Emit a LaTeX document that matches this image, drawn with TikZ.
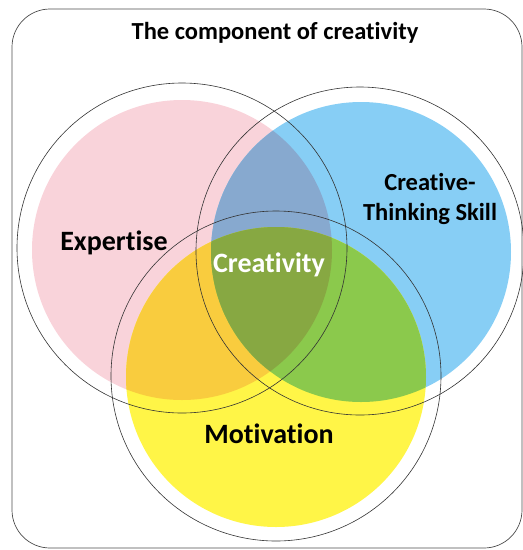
\documentclass[tikz,border=0pt]{standalone}
\usepackage{fontspec}
\setmainfont[Ligatures=CommonOff]{Carlito}
\usepackage{tikz}

\definecolor{expfill}{HTML}{F9D3DA}
\definecolor{skillfill}{HTML}{87CEF5}
\definecolor{motfill}{HTML}{FFF547}
\definecolor{expskill}{HTML}{87A9CF}
\definecolor{expmot}{HTML}{F9CC3E}
\definecolor{skillmot}{HTML}{8BC94C}
\definecolor{creafill}{HTML}{87A842}

\begin{document}
\begin{tikzpicture}[x=1pt,y=-1pt,
	ring/.style={draw=black!80,line width=0.6pt},
	lbl/.style={font=\fontsize{28}{30}\selectfont\bfseries,align=center,anchor=base,inner sep=0pt}]
		\useasboundingbox (0,0) rectangle (523,550);

		\coordinate (E) at (182,250);
		\coordinate (S) at (361,252);
		\coordinate (M) at (276,377);

		\draw[draw=black!70,line width=0.7pt,rounded corners=38pt] (12,9) rectangle (522,548);
	    \node[lbl,font=\fontsize{24.5}{30}\selectfont\bfseries] (title) at (275,39) {The component of creativity};

		% fills
		\fill[expfill] (E) circle[radius=150pt];
		\fill[skillfill] (S) circle[radius=150pt];
		\fill[motfill] (M) circle[radius=150pt];

		\begin{scope}
			\clip (E) circle[radius=150pt];
			\fill[expskill] (S) circle[radius=150pt];
			\fill[expmot] (M) circle[radius=150pt];
		\end{scope}
		\begin{scope}
			\clip (S) circle[radius=150pt];
			\fill[skillmot] (M) circle[radius=150pt];
			\clip (M) circle[radius=150pt];
			\fill[creafill] (E) circle[radius=150pt];
		\end{scope}

		% outlines
		\draw[ring] (182,248) circle[radius=165pt];
		\draw[ring] (360,251) circle[radius=164pt];
		\draw[ring] (276,376) circle[radius=165pt];

	    \node[lbl] (expertise) at (114,250) {Expertise};
	    \node[lbl,font=\fontsize{24.5}{30}\selectfont\bfseries] (skill) at (430,220) {Creative-\\Thinking Skill};
	    \node[lbl,text=white] (creativity) at (269,272) {Creativity};
	    \node[lbl] (motivation) at (269,443) {Motivation};
\end{tikzpicture}
\end{document}
